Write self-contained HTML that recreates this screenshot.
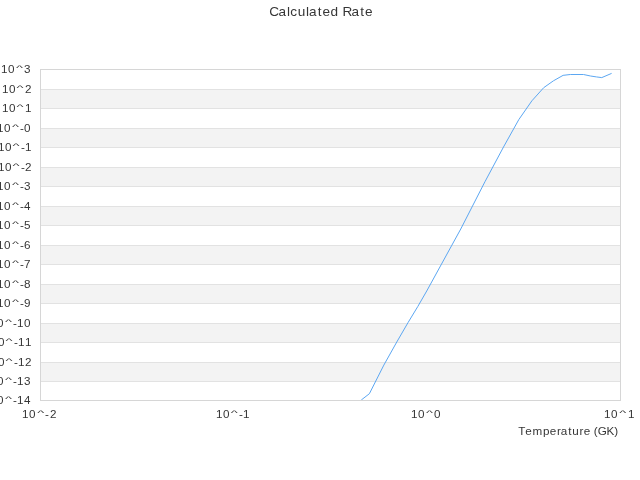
<!DOCTYPE html>
<html><head><meta charset="utf-8"><style>
html,body{margin:0;padding:0;background:#fff;width:640px;height:480px;overflow:hidden}
svg{display:block;will-change:transform}
text{font-family:"Liberation Sans", sans-serif;fill:#363636}
</style></head><body>
<svg width="640" height="480" viewBox="0 0 640 480">
<rect x="0" y="0" width="640" height="480" fill="#fff"/>

<rect x="41" y="90" width="579" height="18" fill="#f3f3f3"/>
<rect x="41" y="129" width="579" height="18" fill="#f3f3f3"/>
<rect x="41" y="168" width="579" height="18" fill="#f3f3f3"/>
<rect x="41" y="207" width="579" height="18" fill="#f3f3f3"/>
<rect x="41" y="246" width="579" height="18" fill="#f3f3f3"/>
<rect x="41" y="285" width="579" height="18" fill="#f3f3f3"/>
<rect x="41" y="324" width="579" height="18" fill="#f3f3f3"/>
<rect x="41" y="363" width="579" height="18" fill="#f3f3f3"/>
<rect x="41" y="89" width="579" height="1" fill="#e2e2e2"/>
<rect x="41" y="108" width="579" height="1" fill="#e2e2e2"/>
<rect x="41" y="128" width="579" height="1" fill="#e2e2e2"/>
<rect x="41" y="147" width="579" height="1" fill="#e2e2e2"/>
<rect x="41" y="167" width="579" height="1" fill="#e2e2e2"/>
<rect x="41" y="186" width="579" height="1" fill="#e2e2e2"/>
<rect x="41" y="206" width="579" height="1" fill="#e2e2e2"/>
<rect x="41" y="225" width="579" height="1" fill="#e2e2e2"/>
<rect x="41" y="245" width="579" height="1" fill="#e2e2e2"/>
<rect x="41" y="264" width="579" height="1" fill="#e2e2e2"/>
<rect x="41" y="284" width="579" height="1" fill="#e2e2e2"/>
<rect x="41" y="303" width="579" height="1" fill="#e2e2e2"/>
<rect x="41" y="323" width="579" height="1" fill="#e2e2e2"/>
<rect x="41" y="342" width="579" height="1" fill="#e2e2e2"/>
<rect x="41" y="362" width="579" height="1" fill="#e2e2e2"/>
<rect x="41" y="381" width="579" height="1" fill="#e2e2e2"/>
<rect x="40" y="69" width="581" height="1" fill="#d6d6d6"/>
<rect x="40" y="400" width="581" height="1" fill="#d6d6d6"/>
<rect x="40" y="69" width="1" height="332" fill="#d6d6d6"/>
<rect x="620" y="69" width="1" height="332" fill="#d6d6d6"/>
<clipPath id="pc"><rect x="40" y="69" width="581" height="331"/></clipPath>
<path d="M361.25,400.00 L369.40,393.70 L383.83,365.10 L396.77,342.00 L407.98,322.70 L417.87,306.40 L426.72,291.00 L460.76,229.00 L484.92,181.80 L503.50,147.00 L518.80,119.60 L531.90,100.80 L543.70,87.70 L553.45,80.80 L563.10,75.35 L570.30,74.50 L583.50,74.50 L590.55,76.00 L596.35,76.90 L601.76,77.60 L611.60,73.40" fill="none" stroke="#5ca7f2" stroke-width="1" stroke-linejoin="miter" clip-path="url(#pc)"/>
<text x="1.00 8.00 24.00" y="72.90" font-size="11.66">103</text>
<text transform="matrix(0.13624 0 0 0.06054 15.877 69.963)" font-size="110.00">^</text>
<text x="2.00 9.00 25.00" y="92.90" font-size="11.66">102</text>
<text transform="matrix(0.13624 0 0 0.06054 16.477 89.963)" font-size="110.00">^</text>
<text x="2.00 9.00 25.00" y="111.90" font-size="11.66">101</text>
<text transform="matrix(0.13624 0 0 0.06054 16.477 108.963)" font-size="110.00">^</text>
<text x="-3.00 4.00 20.00 24.00" y="131.90" font-size="11.66">10-0</text>
<text transform="matrix(0.13624 0 0 0.06054 11.908 128.963)" font-size="110.00">^</text>
<text x="-2.00 5.00 21.00 25.00" y="150.90" font-size="11.66">10-1</text>
<text transform="matrix(0.13624 0 0 0.06054 12.508 147.963)" font-size="110.00">^</text>
<text x="-2.00 5.00 21.00 25.00" y="170.90" font-size="11.66">10-2</text>
<text transform="matrix(0.13624 0 0 0.06054 12.508 167.963)" font-size="110.00">^</text>
<text x="-3.00 4.00 20.00 24.00" y="189.90" font-size="11.66">10-3</text>
<text transform="matrix(0.13624 0 0 0.06054 11.908 186.963)" font-size="110.00">^</text>
<text x="-3.00 4.00 20.00 24.00" y="209.90" font-size="11.66">10-4</text>
<text transform="matrix(0.13624 0 0 0.06054 11.908 206.963)" font-size="110.00">^</text>
<text x="-3.00 4.00 20.00 24.00" y="228.90" font-size="11.66">10-5</text>
<text transform="matrix(0.13624 0 0 0.06054 11.908 225.963)" font-size="110.00">^</text>
<text x="-3.00 4.00 20.00 24.00" y="248.90" font-size="11.66">10-6</text>
<text transform="matrix(0.13624 0 0 0.06054 11.908 245.963)" font-size="110.00">^</text>
<text x="-3.00 4.00 20.00 24.00" y="267.90" font-size="11.66">10-7</text>
<text transform="matrix(0.13624 0 0 0.06054 11.908 264.963)" font-size="110.00">^</text>
<text x="-3.00 4.00 20.00 24.00" y="287.90" font-size="11.66">10-8</text>
<text transform="matrix(0.13624 0 0 0.06054 11.908 284.963)" font-size="110.00">^</text>
<text x="-3.00 4.00 20.00 24.00" y="306.90" font-size="11.66">10-9</text>
<text transform="matrix(0.13624 0 0 0.06054 11.908 303.963)" font-size="110.00">^</text>
<text x="-10.00 -3.00 13.00 17.00 24.00" y="326.90" font-size="11.66">10-10</text>
<text transform="matrix(0.13624 0 0 0.06054 4.909 323.963)" font-size="110.00">^</text>
<text x="-9.00 -2.00 14.00 18.00 25.00" y="345.90" font-size="11.66">10-11</text>
<text transform="matrix(0.13624 0 0 0.06054 5.509 342.963)" font-size="110.00">^</text>
<text x="-9.00 -2.00 14.00 18.00 25.00" y="365.90" font-size="11.66">10-12</text>
<text transform="matrix(0.13624 0 0 0.06054 5.509 362.963)" font-size="110.00">^</text>
<text x="-10.00 -3.00 13.00 17.00 24.00" y="384.90" font-size="11.66">10-13</text>
<text transform="matrix(0.13624 0 0 0.06054 4.909 381.963)" font-size="110.00">^</text>
<text x="-10.00 -3.00 13.00 17.00 24.00" y="403.90" font-size="11.66">10-14</text>
<text transform="matrix(0.13624 0 0 0.06054 4.909 400.963)" font-size="110.00">^</text>
<text x="22.00 29.00 45.00 50.00" y="418.00" font-size="11.66">10-2</text>
<text transform="matrix(0.13624 0 0 0.06054 37.299 415.063)" font-size="110.00">^</text>
<text x="216.00 223.00 239.00 243.00" y="418.00" font-size="11.66">10-1</text>
<text transform="matrix(0.13624 0 0 0.06054 230.632 415.063)" font-size="110.00">^</text>
<text x="411.00 418.00 434.00" y="418.00" font-size="11.66">100</text>
<text transform="matrix(0.13624 0 0 0.06054 425.950 415.063)" font-size="110.00">^</text>
<text x="604.00 611.00 628.00" y="418.00" font-size="11.66">101</text>
<text transform="matrix(0.13624 0 0 0.06054 619.283 415.063)" font-size="110.00">^</text>
<text x="518.25 525.33 532.47 542.97 549.80 556.93 560.64 568.17 572.20 579.48 583.64 593.65 597.76 606.51 614.27" y="434.90" font-size="11.66">Temperature(GK)</text>
<text x="269.16 278.39 286.94 290.28 297.72 305.94 308.97 317.85 322.56 330.58 342.52 351.45 360.33 365.04" y="15.90" font-size="13.58">CalculatedRate</text>
</svg></body></html>
